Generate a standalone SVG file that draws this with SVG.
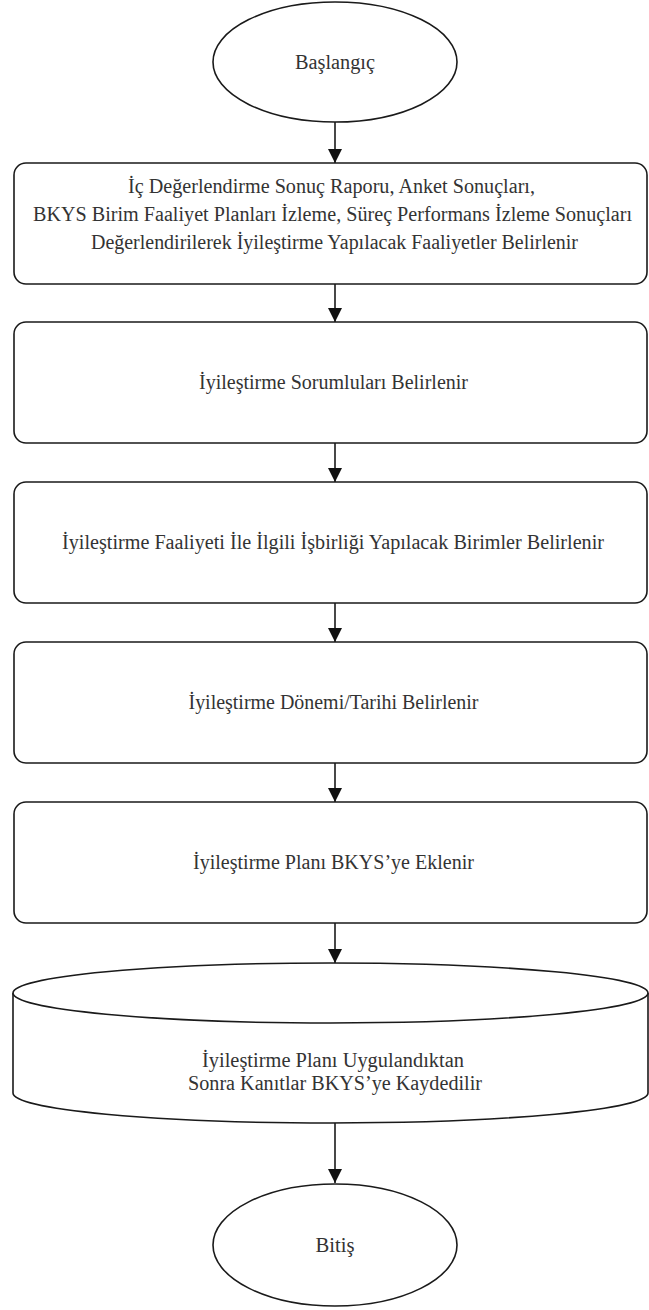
<svg xmlns="http://www.w3.org/2000/svg" width="649" height="1310" viewBox="0 0 649 1310">
<defs>
<style>
.shape{fill:#fff;stroke:#1a1a1a;stroke-width:1.6}
.t{font-family:"Liberation Serif","Times New Roman","DejaVu Serif","Noto Serif",serif;font-size:20px;fill:#333;text-anchor:middle}
.edge{stroke:#1a1a1a;stroke-width:1.6;fill:none}
</style>
<marker id="ah" markerWidth="14" markerHeight="15" refX="14" refY="7" orient="auto" markerUnits="userSpaceOnUse">
<path d="M0,0 L14,7 L0,14 Z" fill="#111"/>
</marker>
</defs>
<rect width="649" height="1310" fill="#fff"/>
<g id="connectors">
<line class="edge" x1="335" y1="122" x2="335" y2="163" marker-end="url(#ah)"/>
<line class="edge" x1="335" y1="284" x2="335" y2="322" marker-end="url(#ah)"/>
<line class="edge" x1="335" y1="443" x2="335" y2="482" marker-end="url(#ah)"/>
<line class="edge" x1="335" y1="603" x2="335" y2="642" marker-end="url(#ah)"/>
<line class="edge" x1="335" y1="763" x2="335" y2="802" marker-end="url(#ah)"/>
<line class="edge" x1="335" y1="923" x2="335" y2="963" marker-end="url(#ah)"/>
<line class="edge" x1="335" y1="1123" x2="335" y2="1183" marker-end="url(#ah)"/>
</g>
<g id="start">
<ellipse class="shape" cx="335" cy="62" rx="122" ry="60"/>
<text class="t" font-family="Liberation Serif, DejaVu Serif, serif" x="335" y="69" textLength="80" lengthAdjust="spacingAndGlyphs">Başlangıç</text>
</g>
<g id="step1">
<rect class="shape" x="14" y="163" width="633" height="121" rx="12"/>
<text class="t" font-family="Liberation Serif, DejaVu Serif, serif" x="331.5" y="193" textLength="407" lengthAdjust="spacingAndGlyphs">İç Değerlendirme Sonuç Raporu, Anket Sonuçları,</text>
<text class="t" font-family="Liberation Serif, DejaVu Serif, serif" x="332.5" y="221" textLength="599" lengthAdjust="spacingAndGlyphs">BKYS Birim Faaliyet Planları İzleme, Süreç Performans İzleme Sonuçları</text>
<text class="t" font-family="Liberation Serif, DejaVu Serif, serif" x="334.5" y="249" textLength="487" lengthAdjust="spacingAndGlyphs">Değerlendirilerek İyileştirme Yapılacak Faaliyetler Belirlenir</text>
</g>
<g id="step2">
<rect class="shape" x="14" y="322" width="633" height="121" rx="12"/>
<text class="t" font-family="Liberation Serif, DejaVu Serif, serif" x="333.5" y="389" textLength="269" lengthAdjust="spacingAndGlyphs">İyileştirme Sorumluları Belirlenir</text>
</g>
<g id="step3">
<rect class="shape" x="14" y="482" width="633" height="121" rx="12"/>
<text class="t" font-family="Liberation Serif, DejaVu Serif, serif" x="333" y="549" textLength="542" lengthAdjust="spacingAndGlyphs">İyileştirme Faaliyeti İle İlgili İşbirliği Yapılacak Birimler Belirlenir</text>
</g>
<g id="step4">
<rect class="shape" x="14" y="642" width="633" height="121" rx="12"/>
<text class="t" font-family="Liberation Serif, DejaVu Serif, serif" x="333.5" y="709" textLength="290" lengthAdjust="spacingAndGlyphs">İyileştirme Dönemi/Tarihi Belirlenir</text>
</g>
<g id="step5">
<rect class="shape" x="14" y="802" width="633" height="121" rx="12"/>
<text class="t" font-family="Liberation Serif, DejaVu Serif, serif" x="333.5" y="869" textLength="281" lengthAdjust="spacingAndGlyphs">İyileştirme Planı BKYS’ye Eklenir</text>
</g>
<g id="record">
<path class="shape" d="M13,993 L13,1093 A317.5,30 0 0 0 648,1093 L648,993 A317.5,30 0 0 0 13,993 Z"/>
<path class="shape" d="M13,993 A317.5,30 0 0 0 648,993" fill="none"/>
<text class="t" font-family="Liberation Serif, DejaVu Serif, serif" x="333" y="1067" textLength="262" lengthAdjust="spacingAndGlyphs">İyileştirme Planı Uygulandıktan</text>
<text class="t" font-family="Liberation Serif, DejaVu Serif, serif" x="335" y="1090" textLength="294" lengthAdjust="spacingAndGlyphs">Sonra Kanıtlar BKYS’ye Kaydedilir</text>
</g>
<g id="end">
<ellipse class="shape" cx="335" cy="1245" rx="122" ry="61"/>
<text class="t" font-family="Liberation Serif, DejaVu Serif, serif" x="335" y="1252" textLength="39" lengthAdjust="spacingAndGlyphs">Bitiş</text>
</g>
</svg>
